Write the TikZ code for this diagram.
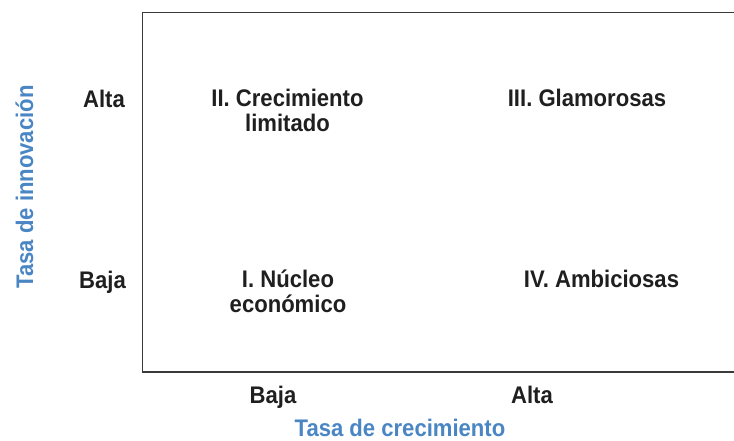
\documentclass[tikz,border=0pt]{standalone}
\usepackage{fontspec}
\setmainfont{Liberation Sans}[FakeStretch=0.92]
\definecolor{axisblue}{HTML}{4A85C4}
\definecolor{framegray}{HTML}{3A3A3A}
\tikzset{
  lab/.style={font=\bfseries\fontsize{24}{25}\selectfont, text=black!88, inner sep=0pt, align=center},
  axtitle/.style={font=\bfseries\fontsize{24}{25}\selectfont, text=axisblue, inner sep=0pt},
  frame/.style={line width=1.3pt, draw=framegray}
}
\begin{document}
\begin{tikzpicture}[x=1pt,y=-1pt]
\useasboundingbox (0,0) rectangle (734,441);
\coordinate (tr) at (734,12.7);
\coordinate (tl) at (142.5,12.7);
\coordinate (bl) at (142.5,372);
\coordinate (br) at (734,372);
\draw[frame] (tr) -- (tl) -- (bl) -- (br);
\node[lab, anchor=base east] (yAlta) at (125,108) {Alta};
\node[lab, anchor=base east] (yBaja) at (126,288) {Baja};
\node[lab, anchor=base] (q2) at (287.5,132) {II. Crecimiento\\limitado};
\node[lab, anchor=base] (q3) at (587,107) {III. Glamorosas};
\node[lab, anchor=base] (q1) at (288,312) {I. Núcleo\\económico};
\node[lab, anchor=base] (q4) at (601.5,287) {IV. Ambiciosas};
\node[lab, anchor=base] (xBaja) at (273,403) {Baja};
\node[lab, anchor=base] (xAlta) at (532,403) {Alta};
\node[axtitle, anchor=base] (xTitle) at (400,436.5) {Tasa de crecimiento};
\node[axtitle, anchor=base, rotate=90] (yTitle) at (33,187) {Tasa de innovación};
\end{tikzpicture}
\end{document}
